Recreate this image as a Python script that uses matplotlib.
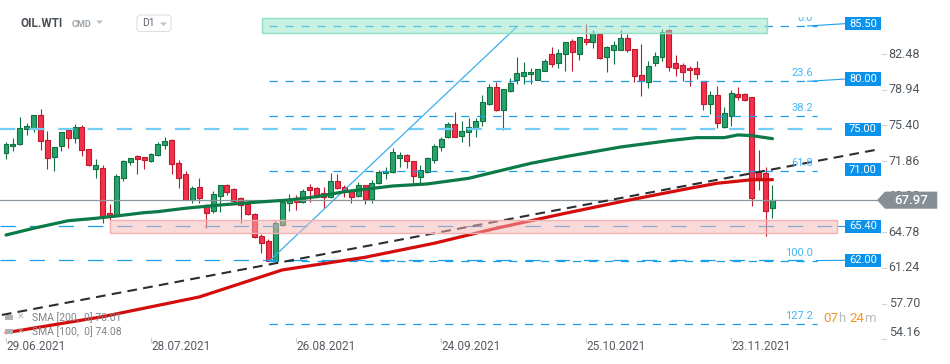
import matplotlib.pyplot as plt
import matplotlib.transforms as mtransforms
from matplotlib.patches import Rectangle, Polygon, FancyBboxPatch
import numpy as np

plt.rcParams['font.family'] = ['Roboto', 'DejaVu Sans']
plt.rcParams['lines.scale_dashes'] = False

# === Daily candles, index 0 = 29.06.2021 ===
opens = [72.63, 73.32, 73.52, 75.01, 75.01, 76.40, 73.92, 72.23, 73.32, 74.94,
         74.12, 75.21, 73.02, 71.10, 71.14, 66.67, 66.43, 70.20, 71.73, 72.33,
         72.23, 71.83, 72.43, 73.42, 73.95, 71.63, 70.54, 67.99, 69.25, 67.49,
         66.93, 68.42, 69.48, 69.08, 68.19, 67.59, 66.60, 64.42, 63.95, 61.96,
         65.48, 67.66, 67.99, 67.76, 69.25, 69.18, 68.66, 68.26, 69.85, 69.25,
         68.91, 68.39, 69.45, 68.06, 69.65, 70.64, 70.74, 72.19, 72.43, 71.83,
         70.30, 70.80, 71.93, 73.22, 74.28, 75.51, 74.38, 74.77, 75.11, 75.84,
         77.55, 79.21, 76.96, 78.84, 79.88, 80.33, 80.47, 79.94, 80.83, 82.46,
         81.62, 82.46, 83.75, 82.46, 83.98, 83.65, 84.44, 82.22, 82.92, 82.92,
         84.05, 82.96, 80.37, 79.68, 81.56, 82.16, 84.84, 81.56, 81.37, 81.10,
         81.07, 79.78, 77.55, 78.39, 75.21, 76.30, 78.49, 78.49, 78.19, 70.74,
         70.64, 67.17]
highs = [73.78, 74.12, 76.20, 75.61, 76.45, 77.00, 74.81, 73.30, 74.75, 75.01,
         75.51, 75.44, 73.10, 72.03, 71.44, 67.59, 70.57, 71.96, 72.15, 72.43,
         72.29, 72.63, 73.72, 74.28, 74.00, 71.96, 70.87, 69.38, 70.17, 67.56,
         68.91, 69.52, 69.55, 69.21, 68.26, 67.66, 66.65, 64.58, 64.09, 66.00,
         67.80, 68.59, 68.49, 69.05, 69.58, 69.31, 69.31, 70.64, 70.57, 69.48,
         69.05, 69.75, 69.50, 69.98, 70.97, 71.24, 73.12, 72.76, 72.53, 71.88,
         71.44, 72.29, 73.55, 74.22, 75.74, 76.70, 75.81, 76.10, 76.10, 78.42,
         79.51, 79.68, 79.05, 80.07, 82.19, 81.66, 81.07, 81.00, 81.96, 83.15,
         82.98, 83.70, 83.95, 84.20, 85.44, 84.84, 84.54, 83.25, 83.78, 84.87,
         84.44, 83.00, 83.45, 81.79, 82.66, 84.97, 85.00, 82.36, 81.56, 81.27,
         81.76, 79.85, 78.81, 79.31, 77.20, 78.88, 79.21, 78.59, 78.25, 72.96,
         71.24, 69.48]
lows = [72.03, 72.89, 73.42, 74.47, 74.77, 72.98, 71.10, 70.84, 72.83, 73.18,
        73.68, 72.33, 71.35, 70.20, 65.68, 65.08, 66.35, 69.91, 71.44, 70.60,
        71.10, 71.78, 72.33, 73.02, 70.60, 69.21, 67.95, 67.66, 67.66, 65.18,
        66.67, 66.83, 68.49, 67.66, 65.74, 66.47, 64.25, 62.76, 61.90, 61.90,
        65.45, 66.93, 67.00, 67.66, 67.82, 68.26, 67.17, 68.16, 69.05, 68.32,
        67.72, 68.32, 67.59, 67.72, 69.60, 70.04, 70.70, 71.30, 71.14, 69.71,
        69.65, 70.70, 71.69, 72.89, 74.15, 74.25, 73.75, 73.35, 74.28, 75.37,
        77.42, 76.85, 74.94, 78.68, 79.54, 79.54, 79.48, 79.88, 80.78, 81.23,
        81.13, 80.83, 80.83, 81.86, 83.38, 83.05, 81.99, 80.67, 81.46, 82.86,
        82.66, 79.74, 78.35, 79.08, 81.33, 81.82, 80.83, 80.27, 79.84, 79.34,
        80.04, 76.96, 76.50, 75.17, 75.11, 75.37, 77.92, 77.85, 67.42, 68.98,
        64.44, 66.23]
closes = [73.52, 73.55, 75.11, 75.31, 76.40, 73.82, 72.13, 73.28, 74.71, 74.12,
          75.27, 72.93, 71.44, 71.44, 66.43, 66.43, 70.34, 71.83, 72.13, 72.09,
          71.93, 72.53, 73.52, 73.82, 71.53, 70.14, 67.99, 69.15, 68.16, 66.73,
          68.59, 69.48, 68.81, 67.92, 67.46, 66.60, 64.29, 63.69, 61.96, 65.74,
          67.76, 68.09, 67.76, 68.88, 68.98, 68.32, 68.26, 69.85, 69.21, 68.78,
          68.32, 69.51, 68.06, 69.65, 70.74, 70.87, 72.73, 72.43, 71.83, 70.40,
          70.94, 72.13, 73.32, 74.02, 75.51, 74.28, 74.81, 75.19, 75.84, 77.69,
          79.21, 76.90, 78.98, 79.58, 80.57, 80.67, 80.67, 80.97, 81.76, 81.52,
          82.56, 83.65, 82.66, 84.15, 83.71, 84.54, 82.06, 83.15, 83.35, 84.05,
          82.86, 80.27, 79.78, 81.27, 82.26, 84.64, 81.23, 81.13, 80.73, 80.87,
          80.53, 77.49, 78.39, 75.61, 76.60, 78.59, 78.25, 77.95, 68.16, 69.98,
          66.93, 67.97]

date_idx = [0, 21, 42, 63, 84, 105]
date_labels = ["29.06.2021", "28.07.2021", "26.08.2021", "24.09.2021", "25.10.2021", "23.11.2021"]
price_ticks = [82.48, 78.94, 75.40, 71.86, 68.32, 64.78, 61.24, 57.70, 54.16]

# moving averages (candle index, value)
sma100_idx = [0, 4, 9, 13, 16, 20, 22, 26, 31, 36, 41, 45, 49, 56, 61, 67, 70, 76, 81, 89,
              96, 100, 104, 106, 108, 111]
sma100 = [64.51, 65.18, 65.93, 66.17, 66.40, 66.73, 66.83, 67.17, 67.49, 67.76, 67.99, 68.32,
          68.81, 69.38, 69.58, 70.14, 70.64, 71.63, 72.29, 73.25, 73.88, 74.18, 74.18, 74.45,
          74.38, 74.08]
sma200_idx = [0, 14, 28, 40, 52, 62, 71, 81, 90, 99, 103, 108, 111]
sma200 = [54.81, 56.40, 58.36, 61.04, 62.30, 63.69, 65.18, 66.67, 67.95, 69.15, 69.65, 70.00, 70.01]

# drawings
trend_idx = [-0.6, 125.9]
trend_val = [56.57, 72.96]
diag_idx = [38.2, 74.1]
diag_val = [61.97, 85.27]
fib_high, fib_low = 85.27, 61.97
fib_ratios = [0.0, 23.6, 38.2, 61.8, 100.0, 127.2]
fib_from, fib_to = 38.1, 117.4
levels = [85.50, 80.00, 75.00, 71.00, 65.40, 62.00]
supply_zone = [37.1, 110.2, 84.60, 86.05]  # x0, x1, y0, y1
demand_zone = [15.1, 120.3, 64.68, 66.00]
box_x0, box_x1 = 121.5, 126.7

W, H = 950, 364
fig = plt.figure(figsize=(W / 100, H / 100), dpi=100)
ax = fig.add_axes([0, 0, 1, 1])
ax.set_xlim(-0.87, 136.71)
ax.set_ylim(51.70, 87.85)
ax.axis('off')

yright = mtransforms.blended_transform_factory(ax.transAxes, ax.transData)
xbottom = mtransforms.blended_transform_factory(ax.transData, ax.transAxes)
pix = mtransforms.Affine2D().scale(1 / W, -1 / H).translate(0, 1) + fig.transFigure

# === candles ===
o, h, l, c = map(np.array, (opens, highs, lows, closes))
x = np.arange(len(o))
up = c >= o
GREEN, GREEN_EDGE = "#27a36b", "#117040"
RED, RED_EDGE = "#f5314a", "#bd1a2e"
body = np.maximum(np.abs(c - o), 0.07)
bottom = np.minimum(o, c)
ax.vlines(x[up], l[up], h[up], color=GREEN_EDGE, lw=0.8, zorder=2)
ax.vlines(x[~up], l[~up], h[~up], color=RED_EDGE, lw=0.8, zorder=2)
ax.bar(x[up], body[up], bottom=bottom[up], width=0.72, color=GREEN, edgecolor=GREEN_EDGE, lw=0.8, zorder=2.2)
ax.bar(x[~up], body[~up], bottom=bottom[~up], width=0.72, color=RED, edgecolor=RED_EDGE, lw=0.8, zorder=2.2)

# === horizontal levels ===
LEVEL_BLUE = "#1a9fea"
ax.plot([-0.87, box_x0], [75.0, 75.0], color="#74cdf6", lw=1.6, dashes=(11, 10), zorder=3)
ax.plot([-0.87, demand_zone[1]], [65.4, 65.4], color=LEVEL_BLUE, lw=0.9, dashes=(11, 10), zorder=3)
ax.plot([-0.87, fib_to], [62.0, 62.0], color=LEVEL_BLUE, lw=0.9, dashes=(11, 10), zorder=3)

fib_vals = [fib_high - r / 100 * (fib_high - fib_low) for r in fib_ratios]
clip = mtransforms.TransformedBbox(mtransforms.Bbox.from_extents(0, 0, 1, 1 - 17 / H), fig.transFigure)
for r, v in zip(fib_ratios, fib_vals):
    ax.plot([fib_from, fib_to], [v, v], color=LEVEL_BLUE, lw=0.9, dashes=(6, 5.5), zorder=3)
    t = ax.text(fib_to - 0.5, v + 0.5, f"{r:.1f}", color="#45b7f5", fontsize=8,
                ha='right', va='baseline', zorder=6)
    t.set_clip_box(clip)
    t.set_clip_on(True)

# connectors to the price boxes
ax.plot([fib_to - 1.3, box_x0], [fib_vals[0], levels[0]], color=LEVEL_BLUE, lw=0.8, zorder=3)
ax.plot([fib_to - 1.3, box_x0], [fib_vals[1], levels[1]], color=LEVEL_BLUE, lw=0.8, zorder=3)
ax.plot([fib_to, box_x0], [fib_vals[4], levels[5]], color=LEVEL_BLUE, lw=0.8, zorder=3)
ax.plot([demand_zone[1], box_x0], [levels[4], levels[4]], color=LEVEL_BLUE, lw=0.8, zorder=3)

ax.plot(diag_idx, diag_val, color="#3aaef0", lw=0.9, zorder=3)

# === moving averages and trendline ===
ax.plot(sma100_idx, sma100, color="#0b7a47", lw=2.3, zorder=3.5, solid_capstyle='round')
ax.plot(sma200_idx, sma200, color="#d40c0c", lw=2.3, zorder=3.5, solid_capstyle='round')
ax.plot(trend_idx, trend_val, color="#2a2e33", lw=1.5, dashes=(7, 4.5), zorder=4)

# === zones ===
for (x0, x1, y0, y1), fc, ec in [(supply_zone, (0.576, 0.894, 0.788, 0.5), "#8fe0c3"),
                                 (demand_zone, (0.969, 0.71, 0.71, 0.5), "#f4b1b1")]:
    ax.add_patch(Rectangle((x0, y0), x1 - x0, y1 - y0, fc=fc, ec=ec, lw=1, zorder=5))

# === current price ===
cur = closes[-1]
ax.plot([0, 0.923], [cur, cur], transform=yright, color="#8d969c", lw=0.9, zorder=3)

# === right price axis ===
for p in price_ticks:
    ax.text(0.9355, p, f"{p:.2f}", transform=yright, ha='left',
            va='center' if p > 55 else 'bottom', fontsize=9, color="#50575d", zorder=6)
    ax.plot([0.928, 0.9325], [p, p], transform=yright, color="#d4d4d4", lw=0.8, zorder=6)

for lv in levels:
    ax.add_patch(Rectangle((box_x0, lv - 0.65), box_x1 - box_x0, 1.3, fc="#0b93eb", ec='none', zorder=6))
    ax.text((box_x0 + box_x1) / 2, lv, f"{lv:.2f}", ha='center', va='center',
            color='white', fontsize=8, zorder=7)

tag = [(0.9232, cur), (0.9316, cur + 0.85), (0.9866, cur + 0.85), (0.9866, cur - 0.85), (0.9316, cur - 0.85)]
ax.add_patch(Polygon(tag, closed=True, transform=yright, fc="#868f95", ec='none', zorder=8))
ax.text(0.959, cur, f"{cur:.2f}", transform=yright, ha='center', va='center',
        color='white', fontsize=9.5, fontweight='medium', zorder=9)

# === dates ===
for i, lab in zip(date_idx, date_labels):
    ax.text(i, 1 - 347 / H, lab, transform=xbottom, ha='left', va='center', fontsize=8.5, color="#555b61")
    ax.plot([i, i], [1 - 338 / H, 1 - 342 / H], transform=xbottom, color="#cfcfcf", lw=0.8)

# === header ===
fig.text(20.5, 23.5, "OIL.WTI", transform=pix, ha='left', va='center', fontsize=8.5,
         fontweight='bold', color="#4a4f55")
fig.text(72, 24.5, "CMD", transform=pix, ha='left', va='center', fontsize=6.5,
         fontweight='bold', color="#9aa5ae")
fig.patches.append(Polygon([(96, 20.5), (103, 20.5), (99.5, 24)], closed=True, transform=pix,
                           fc="#bcc2c7", ec='none'))
fig.patches.append(FancyBboxPatch((137, 15), 34, 16.5, boxstyle="round,pad=0,rounding_size=3",
                                  transform=pix, fc='white', ec="#dcdfe2", lw=0.8))
fig.text(142, 23.5, "D1", transform=pix, ha='left', va='center', fontsize=7.5, color="#5f666d")
fig.patches.append(Polygon([(160, 22.5), (167, 22.5), (163.5, 26)], closed=True, transform=pix,
                           fc="#bcc2c7", ec='none'))

# === SMA legend ===
sma_rows = [("SMA [200,  0] ", sma200[-1], 317.3), ("SMA [100,  0] ", sma100[-1], 331.7)]
for name, val, yy in sma_rows:
    fig.patches.append(Rectangle((5, yy - 2.5), 8, 5, transform=pix, fc="#b0b0b0", ec='none'))
    fig.text(20.5, yy, "✕", transform=pix, ha='center', va='center', fontsize=6.5,
             color="#b0b0b0", family=['DejaVu Sans'])
    fig.text(32, yy, f"{name}{val:.2f}", transform=pix, ha='left', va='center', fontsize=7.5, color="#808488")

# === countdown, pieces placed one after another ===
renderer = fig.canvas.get_renderer()
xx = 823
for txt, col, gap in [("07", "#f7931e", 0.5), ("h", "#b9b9b9", 3.5), ("24", "#f7931e", 0.5), ("m", "#b9b9b9", 0)]:
    t = fig.text(xx, 318.5, txt, transform=pix, ha='left', va='center', fontsize=9.5, color=col)
    xx += t.get_window_extent(renderer).width + gap

fig.savefig("out.png", dpi=100)
